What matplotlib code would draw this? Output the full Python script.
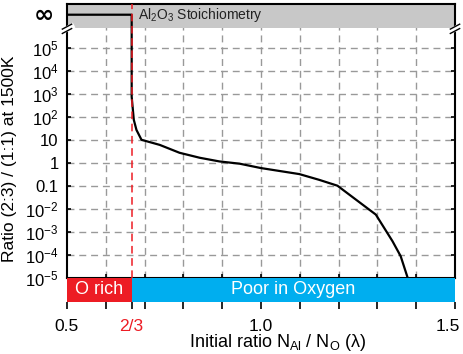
import numpy as np
import matplotlib
matplotlib.use('Agg')
import matplotlib.pyplot as plt
import matplotlib.transforms as mtransforms
from matplotlib.ticker import FixedLocator, NullFormatter

plt.rcParams['font.family'] = ['Liberation Sans', 'DejaVu Sans']
plt.rcParams['mathtext.fontset'] = 'custom'
plt.rcParams['mathtext.rm'] = 'Liberation Sans'
plt.rcParams['mathtext.it'] = 'Liberation Sans:italic'

# data
lam = [0.5, 0.6667, 0.6667, 0.6722, 0.679, 0.692, 0.739, 0.790, 0.842, 0.893,
       0.945, 0.999, 1.099, 1.150, 1.197, 1.296, 1.339, 1.360, 1.377]
ratio = [np.inf, np.inf, 760, 74, 27, 10, 6.0, 2.72, 1.65, 1.14,
         0.91, 0.59, 0.32, 0.18, 0.10, 5.5e-3, 3.8e-4, 8.5e-5, 1.1e-5]

ytick_vals = [1e-5, 1e-4, 1e-3, 1e-2, 0.1, 1, 10, 1e2, 1e3, 1e4, 1e5]
ytick_labels = ['10$^{-5}$', '10$^{-4}$', '10$^{-3}$', '10$^{-2}$', '0.1', '1',
                '10', '10$^{2}$', '10$^{3}$', '10$^{4}$', '10$^{5}$']
xtick_vals = [0.5, 2 / 3, 1.0, 1.5]
xtick_labels = ['0.5', '2/3', '1.0', '1.5']
regions = [(0.5, 2 / 3, 'O rich', '#ED1C24'), (2 / 3, 1.5, 'Poor in Oxygen', '#00AEEF')]

INF_LEVEL = 10 ** 6.45
BAND_LOW = 10 ** 5.871
YTOP = 10 ** 6.917

fig = plt.figure(figsize=(4.63, 3.54), dpi=100)
ax = fig.add_axes([0.1447, 0.2161, 0.838, 0.7726])
axb = fig.add_axes([0.1447, 0.1469, 0.838, 0.0692])

ratio_plot = np.where(np.isinf(ratio), INF_LEVEL, ratio)

ax.set_yscale('log')
ax.set_xlim(0.5, 1.5)
ax.set_ylim(1e-5, YTOP)
ax.set_axisbelow(True)
ax.axhspan(BAND_LOW, YTOP, color='#C8C8C8', lw=0, zorder=1)
ax.plot(lam, ratio_plot, color='black', lw=1.6, zorder=3)
ax.axvline(2 / 3, color='#ED1C24', lw=1.1, ls=(0, (5, 3)), zorder=4)

ax.yaxis.set_major_locator(FixedLocator(ytick_vals + [INF_LEVEL]))
ax.yaxis.set_minor_locator(FixedLocator([]))
ax.set_yticklabels(ytick_labels + [''])
ax.xaxis.set_major_locator(FixedLocator(np.round(np.arange(0.6, 1.41, 0.1), 2)))
ax.xaxis.set_major_formatter(NullFormatter())
ax.tick_params(axis='both', which='both', direction='in', length=3, width=1.2,
               top=True, right=True, labelsize=12, pad=6)
ax.grid(True, color='#999999', ls=(0, (5, 3.5)), lw=1.0)
for sp in ax.spines.values():
    sp.set_linewidth(1.5)
ax.text(-0.059, INF_LEVEL, '\u221e', transform=ax.get_yaxis_transform(),
        ha='center', va='center', fontsize=17.5, family='DejaVu Sans',
        fontweight='bold')
ax.text(0.683, INF_LEVEL, 'Al$_2$O$_3$ Stoichiometry', ha='left', va='center',
        fontsize=10, color='#222222')
ax.set_ylabel('Ratio (2:3) / (1:1) at 1500K', fontsize=12.5, va='center')
ax.yaxis.set_label_coords(-0.149, 0.435)

# axis break marks
yb = (np.log10(BAND_LOW) + 5) / (np.log10(YTOP) + 5)
for xs in (0, 1):
    ax.plot([xs - 0.012, xs + 0.012], [yb - 0.012, yb + 0.006], color='white',
            lw=4, transform=ax.transAxes, clip_on=False, zorder=5)
    for dy in (-0.008, 0.008):
        ax.plot([xs - 0.012, xs + 0.012], [yb - 0.012 + dy, yb + 0.006 + dy],
                color='black', lw=1.0, transform=ax.transAxes, clip_on=False, zorder=6)

# region band under the plot
for x0, x1, name, col in regions:
    axb.axvspan(x0, x1, color=col, lw=0)
    axb.text((x0 + x1) / 2, 0.5, name, color='white', fontsize=13,
             ha='center', va='center', transform=axb.get_xaxis_transform())
axb.set_xlim(0.5, 1.5)
axb.set_ylim(0, 1)
axb.set_yticks([])
for sp in axb.spines.values():
    sp.set_visible(False)
axb.set_xticks(xtick_vals)
axb.set_xticklabels(xtick_labels)
axb.set_xticks(np.round(np.arange(0.6, 1.41, 0.1), 2), minor=True)
axb.tick_params(axis='x', which='both', direction='out', length=5, width=1.2,
                labelsize=12.5, pad=7)
xl = axb.get_xticklabels()
xl[1].set_color('#ED1C24')
xl[-1].set_ha('right')
xl[-1].set_transform(xl[-1].get_transform() +
                     mtransforms.ScaledTranslation(5 / 100, 0, fig.dpi_scale_trans))
axb.set_xlabel('Initial ratio N$_{\\mathrm{Al}}$ / N$_{\\mathrm{O}}$ (\u03bb)',
               fontsize=13)
axb.xaxis.set_label_coords(0.544, -1.67)
axb.xaxis.label.set_va('center')

fig.savefig('out.png', dpi=100)
